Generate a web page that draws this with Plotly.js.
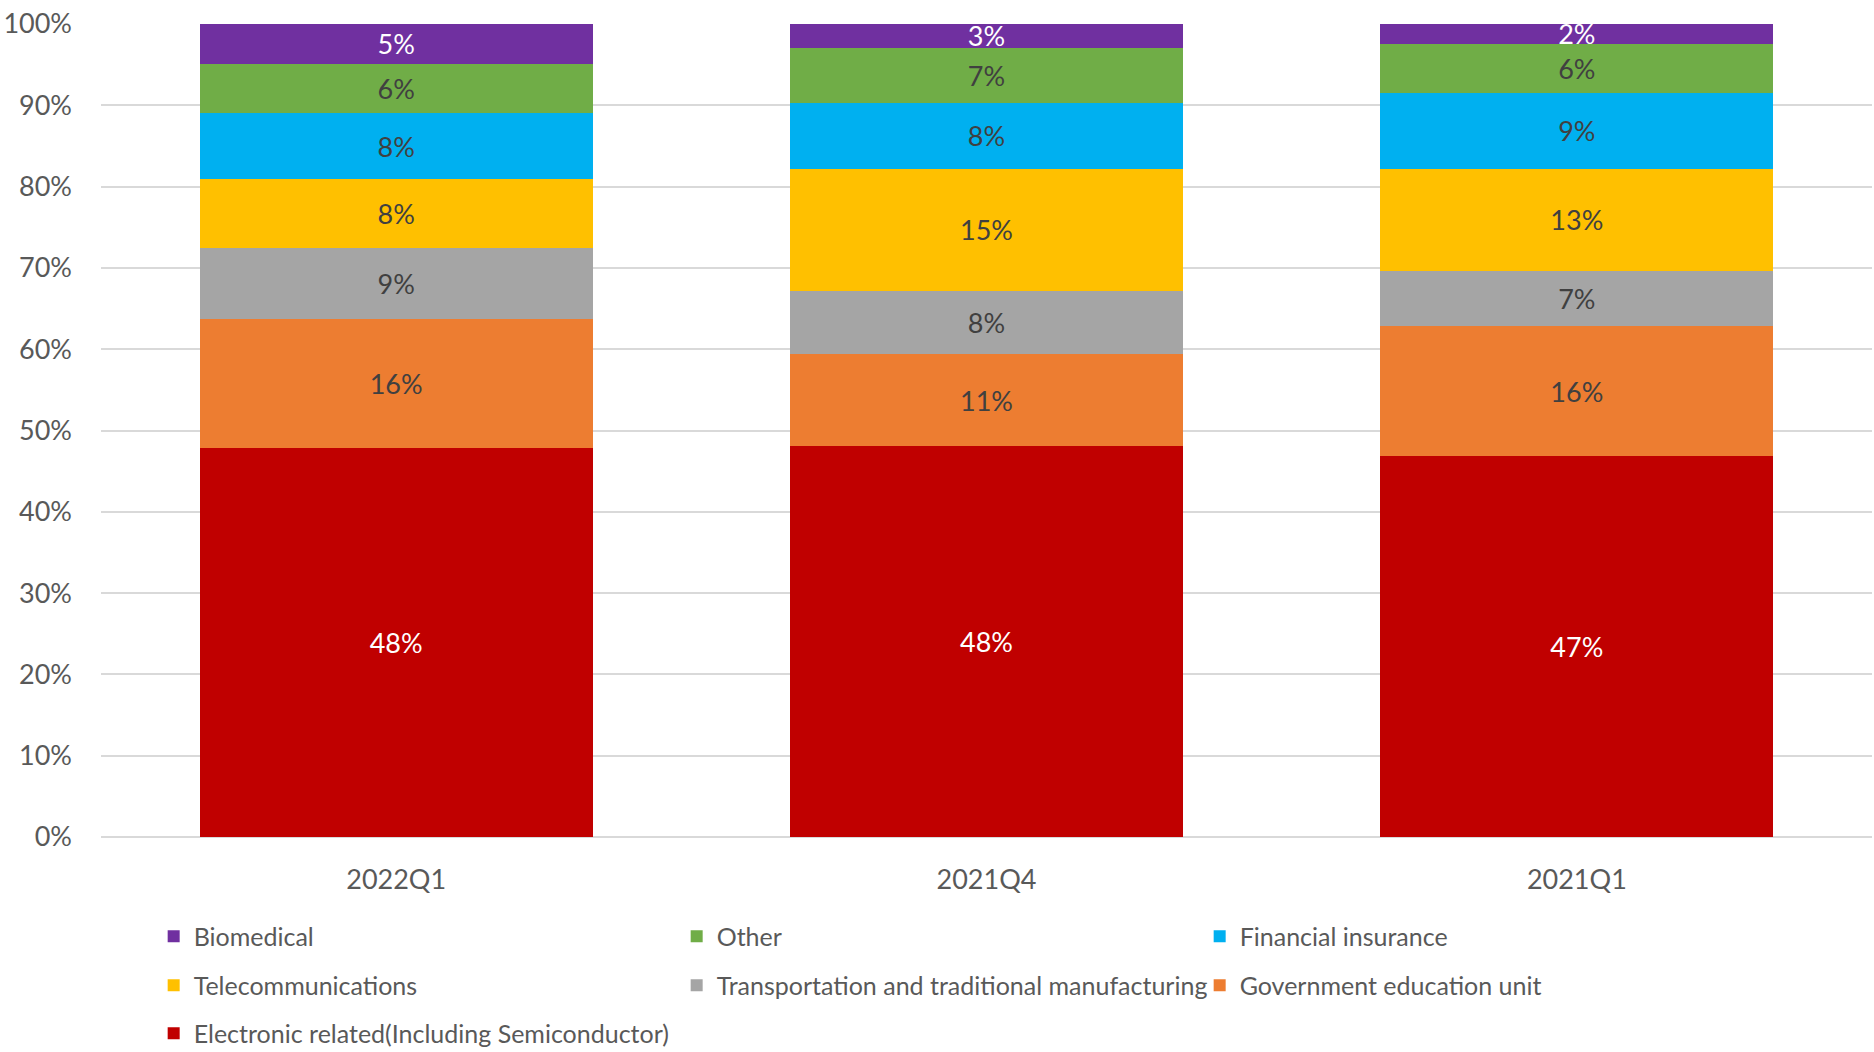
<!DOCTYPE html>
<html>
<head>
<meta charset="utf-8">
<script src="https://cdn.plot.ly/plotly-3.0.1.min.js"></script>
<style>html,body{margin:0;padding:0;background:#fff;}#chart{width:1874px;height:1052px;}</style>
</head>
<body>
<div id="chart"></div>
<script>
const categories = ["2022Q1", "2021Q4", "2021Q1"];
const seriesNames = [
  "Electronic related(Including Semiconductor)",
  "Government education unit",
  "Transportation and traditional manufacturing",
  "Telecommunications",
  "Financial insurance",
  "Other",
  "Biomedical"
];
const electronic = [0.478, 0.481, 0.469];
const government = [0.159, 0.113, 0.159];
const transportation = [0.088, 0.078, 0.068];
const telecom = [0.084, 0.150, 0.126];
const financial = [0.081, 0.081, 0.093];
const other = [0.061, 0.068, 0.061];
const biomedical = [0.049, 0.029, 0.024];
const seriesValues = [electronic, government, transportation, telecom, financial, other, biomedical];
const colors = ["#C00000", "#ED7D31", "#A5A5A5", "#FFC000", "#00B0F0", "#70AD47", "#7030A0"];
const labelColors = ["#FFFFFF", "#404040", "#404040", "#404040", "#404040", "#404040", "#FFFFFF"];
const legendRow = ["legend3", "legend2", "legend2", "legend2", "legend", "legend", "legend"];
const yTickVals = [0, 0.1, 0.2, 0.3, 0.4, 0.5, 0.6, 0.7, 0.8, 0.9, 1.0];

const FONT = "Lato, 'Open Sans', sans-serif";
const traces = seriesNames.map((name, i) => ({
  type: "bar",
  name: name,
  legend: legendRow[i],
  x: categories,
  y: seriesValues[i],
  marker: {color: colors[i], line: {width: 0}},
  texttemplate: "%{y:.0%}",
  textposition: "inside",
  insidetextanchor: "middle",
  constraintext: "none",
  textangle: 0,
  textfont: {family: FONT, size: 27, color: labelColors[i]},
  hoverinfo: "none",
  cliponaxis: false
}));

function legendAt(yTop) {
  return {
    orientation: "h",
    traceorder: "reversed",
    xref: "container",
    yref: "container",
    x: 0.082,
    xanchor: "left",
    y: yTop,
    yanchor: "top",
    entrywidth: 478,
    entrywidthmode: "pixels",
    itemwidth: 30,
    font: {family: FONT, size: 25, color: "#595959"},
    bgcolor: "rgba(0,0,0,0)"
  };
}

const layout = {
  width: 1874,
  height: 1052,
  barmode: "stack",
  bargap: 0.334,
  paper_bgcolor: "#FFFFFF",
  plot_bgcolor: "#FFFFFF",
  margin: {l: 101, r: 2, t: 24, b: 215},
  font: {family: FONT, color: "#595959"},
  xaxis: {
    type: "category",
    tickfont: {family: FONT, size: 27, color: "#595959"},
    showgrid: false,
    showline: false,
    ticks: "",
    ticklabelstandoff: 24,
    range: [-0.5, 2.5]
  },
  yaxis: {
    range: [0, 1],
    tickvals: yTickVals,
    tickformat: ".0%",
    tickfont: {family: FONT, size: 27, color: "#595959"},
    gridcolor: "#D9D9D9",
    gridwidth: 2,
    zeroline: true,
    zerolinecolor: "#D9D9D9",
    zerolinewidth: 2,
    showline: false,
    ticks: "",
    ticklabelstandoff: 28,
    fixedrange: true
  },
  showlegend: true,
  legend: legendAt(0.1317),
  legend2: legendAt(0.085),
  legend3: legendAt(0.0394)
};

Plotly.newPlot("chart", traces, layout, {displayModeBar: false, staticPlot: true});
</script>
</body>
</html>
